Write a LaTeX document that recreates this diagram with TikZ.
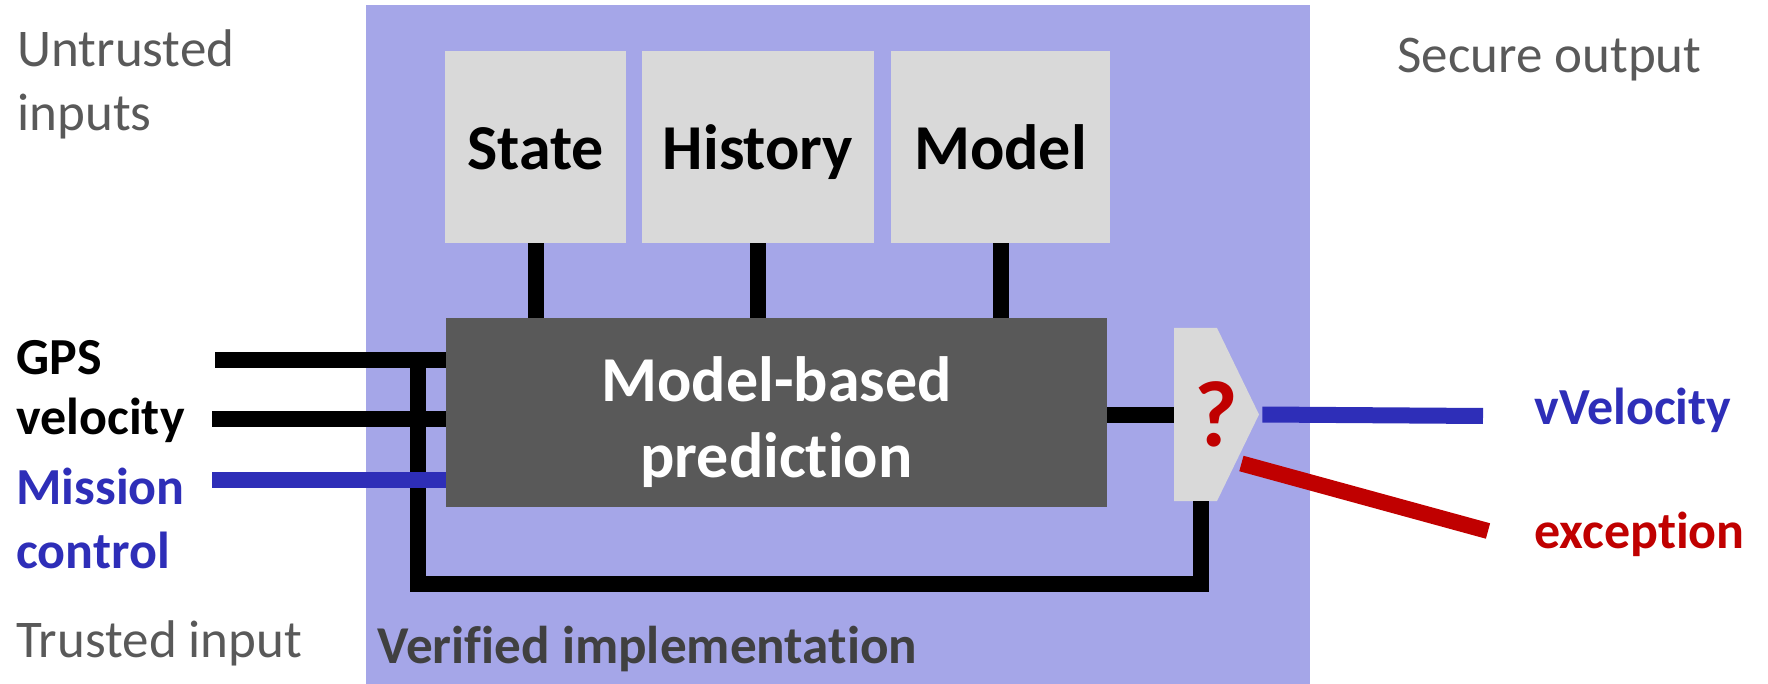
\documentclass[tikz,border=0pt]{standalone}
\usepackage{fontspec}
\setmainfont{Carlito}[Ligatures=NoCommon]
\usetikzlibrary{calc}

\definecolor{verifbg}{HTML}{A5A6E8}
\definecolor{storegray}{HTML}{D9D9D9}
\definecolor{engine}{HTML}{595959}
\definecolor{trustblue}{HTML}{2E2EB8}
\definecolor{alertred}{HTML}{C00000}
\definecolor{notegray}{HTML}{595959}
\definecolor{titlegray}{HTML}{404040}

\tikzset{
  wire/.style={line width=8pt, draw=black},
  bluewire/.style={line width=8pt, draw=trustblue},
  redwire/.style={line width=8pt, draw=alertred},
  store/.style={fill=storegray, inner sep=0pt, minimum height=96pt,
    font=\fontsize{32}{38}\selectfont\bfseries, text height=22.5pt, text depth=0pt},
  note/.style={inner sep=0pt, anchor=base west, align=left, text=notegray,
    font=\fontsize{26.5}{32}\selectfont},
  port/.style={inner sep=0pt, anchor=base west, align=left,
    font=\fontsize{26}{30.5}\selectfont\bfseries},
}

\begin{document}
\begin{tikzpicture}[x=0.5pt, y=-0.5pt]
\useasboundingbox (0,0) rectangle (1768,684);

% verified implementation region
\node[fill=verifbg, inner sep=0pt, minimum width=472pt, minimum height=339.5pt]
  (impl) at (838,344.5) {};
\node[inner sep=0pt, anchor=base west, text=titlegray,
  font=\fontsize{26.6}{32}\selectfont\bfseries] (impltitle) at (377,663) {Verified implementation};

% stores
\node[store, minimum width=90.5pt]  (state)   at (535.5,147) {State};
\node[store, minimum width=116pt]   (history) at (758,147)   {History};
\node[store, minimum width=109.5pt] (model)   at (1000.5,147) {Model};

% predictor
\node[fill=engine, inner sep=0pt, minimum width=330.5pt, minimum height=94.5pt]
  (pred) at (776.5,412.5) {};
\node[text=white, inner sep=0pt, anchor=base, align=center,
  font=\fontsize{32}{38}\selectfont\bfseries] (predtext) at (776.5,477)
  {Model-based\\prediction};

\foreach \s in {state,history,model}
  \draw[wire] (\s.south) -- (\s.south |- pred.north);

% decision gate
\node[inner sep=0pt, minimum width=42.5pt, minimum height=86.5pt, text=alertred,
  font=\fontsize{47}{50}\selectfont\bfseries,
  path picture={\fill[storegray] (path picture bounding box.north west) -- ++(43,0)
     -- (path picture bounding box.east) -- ($(path picture bounding box.south west)+(43,0)$)
     -- (path picture bounding box.south west) -- cycle;}]
  (gate) at (1216.5,414.5) {?};

% side labels
\node[note] (untrusted) at (17,131) {Untrusted\\inputs};
\node[note] (trusted) at (16,657) {Trusted input};
\node[note] (secure) at (1397,73) {Secure output};
\node[port] (gps) at (16,435) {GPS\\velocity};
\node[port, text=trustblue, font=\fontsize{26}{32}\selectfont\bfseries] (mission) at (16,568) {Mission\\control};
\node[port, text=trustblue] (vvel) at (1534,424) {vVelocity};
\node[port, text=alertred] (exc) at (1534,548) {exception};

% wire end points
\coordinate (gpsin) at (215,360);
\coordinate (velin) at (212,419);
\coordinate (misin) at (212,480);
\coordinate (fb) at (418,584);
\coordinate (vvelend) at (1483,416);
\coordinate (excend) at (1488,531);

% feedback loop from the gate back to the inputs
\draw[wire] ($(gate.south west)+(27,0)$) |- (fb) -- (fb |- gpsin);

% inputs
\draw[wire] (gpsin) -- (pred.west |- gpsin);
\draw[wire] (velin) -- (pred.west |- velin);
\draw[bluewire] (misin) -- (pred.west |- misin);

% prediction to gate, gate to outputs
\draw[wire] (pred.east |- gate.west) -- (gate.west);
\draw[bluewire] ($(gate.east)+(3,0)$) -- (vvelend);
\draw[redwire] ($(gate.east)+(-18,49)$) -- (excend);
\end{tikzpicture}
\end{document}
